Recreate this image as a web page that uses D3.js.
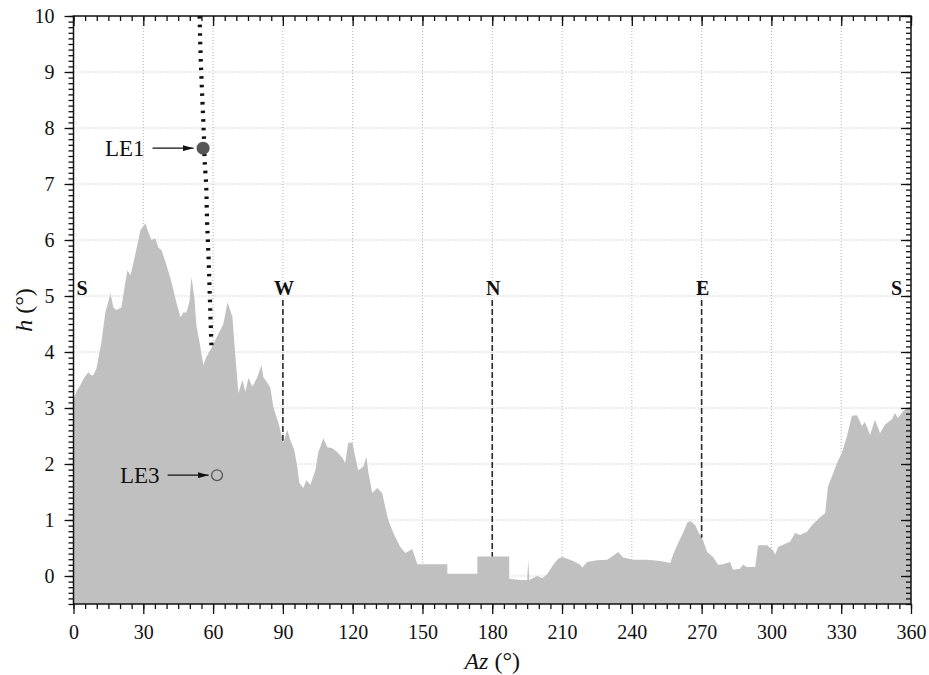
<!DOCTYPE html>
<html>
<head>
<meta charset="utf-8">
<script src="https://cdn.jsdelivr.net/npm/d3@7"></script>
<style>
  html, body { margin: 0; padding: 0; background: #fff; }
  svg { display: block; }
  svg text { font-family: "Liberation Serif", "Times New Roman", serif; }
</style>
</head>
<body>
<svg id="chart" width="929" height="675"></svg>
<script>
// Horizon profile: azimuth (deg) and apparent horizon altitude (deg)
const azimuth = [
  0.0, 1.3, 3.0, 4.7, 6.4, 7.7, 8.6, 9.9, 11.2, 12.0, 13.7, 15.0, 15.9, 17.2, 18.5, 20.6,
  22.3, 23.2, 24.5, 25.8, 27.1, 28.8, 30.1, 30.9, 32.2, 33.5, 35.2, 36.5, 37.8, 40.0,
  42.1, 44.2, 46.0, 47.3, 48.5, 49.8, 50.7, 52.0, 52.8, 54.6, 55.8, 57.1, 59.3, 61.4,
  63.1, 64.4, 65.3, 66.2, 68.3, 69.6, 70.9, 72.6, 73.9, 75.2, 76.9, 79.0, 80.8, 81.6,
  83.3, 84.6, 85.9, 88.1, 90.2, 91.9, 93.2, 94.9, 96.2, 97.1, 98.8, 100.1, 101.8, 104.0,
  105.2, 107.4, 109.1, 111.3, 113.4, 115.6, 116.8, 118.1, 119.9, 121.1, 122.4, 124.6,
  125.9, 126.7, 128.4, 130.6, 132.7, 134.0, 135.3, 137.5, 139.6, 140.5, 142.6, 144.8,
  145.6, 146.9, 147.8, 160.7, 160.7, 173.6, 173.6, 187.3, 187.3, 192.0, 195.0, 195.5,
  195.9, 199.3, 201.5, 203.6, 206.2, 208.3, 210.1, 212.2, 214.8, 217.8, 218.7, 220.8,
  225.1, 229.4, 232.0, 234.1, 236.3, 240.6, 246.6, 252.2, 256.5, 257.7, 259.9, 262.0,
  263.8, 265.1, 267.2, 268.5, 270.6, 272.4, 274.9, 277.1, 279.2, 282.2, 283.5, 286.5,
  287.8, 289.5, 293.0, 294.3, 298.1, 300.7, 301.6, 302.9, 306.7, 308.0, 310.2, 312.3,
  315.3, 317.5, 320.9, 323.1, 324.3, 326.5, 328.2, 330.3, 332.5, 334.6, 336.8, 338.9,
  340.2, 342.4, 344.5, 346.7, 348.8, 351.8, 353.1, 354.4, 356.6, 358.7, 360.0
];
const horizon = [
  3.15, 3.30, 3.41, 3.55, 3.64, 3.58, 3.59, 3.71, 4.00, 4.18, 4.71, 4.90, 5.05, 4.79, 4.75, 4.80,
  5.25, 5.46, 5.37, 5.60, 5.85, 6.18, 6.25, 6.30, 6.14, 6.00, 6.03, 5.86, 5.82, 5.55,
  5.25, 4.89, 4.62, 4.71, 4.70, 4.89, 5.34, 4.96, 4.48, 4.07, 3.77, 3.91, 4.07, 4.25,
  4.39, 4.50, 4.69, 4.89, 4.63, 3.91, 3.27, 3.50, 3.29, 3.54, 3.38, 3.55, 3.77, 3.55,
  3.45, 3.36, 3.02, 2.73, 2.38, 2.61, 2.43, 2.25, 1.95, 1.66, 1.57, 1.71, 1.63, 1.89,
  2.20, 2.46, 2.30, 2.28, 2.21, 2.11, 2.02, 2.38, 2.38, 2.13, 1.89, 1.95,
  2.13, 1.86, 1.48, 1.57, 1.48, 1.23, 1.00, 0.77, 0.59, 0.52, 0.41, 0.46,
  0.48, 0.32, 0.21, 0.21, 0.04, 0.04, 0.35, 0.35, -0.05, -0.07, -0.07, 0.29,
  -0.07, 0.00, -0.04, 0.03, 0.20, 0.31, 0.34, 0.31, 0.27, 0.20, 0.15, 0.25,
  0.28, 0.29, 0.36, 0.43, 0.33, 0.29, 0.29, 0.27, 0.23, 0.38, 0.59, 0.77,
  0.95, 0.98, 0.91, 0.79, 0.64, 0.43, 0.34, 0.20, 0.21, 0.25, 0.11, 0.13,
  0.20, 0.16, 0.16, 0.55, 0.55, 0.46, 0.38, 0.52, 0.59, 0.61, 0.77, 0.73,
  0.79, 0.91, 1.05, 1.12, 1.60, 1.83, 2.02, 2.20, 2.50, 2.86, 2.87, 2.68,
  2.75, 2.52, 2.79, 2.55, 2.70, 2.80, 2.91, 2.82, 2.94, 3.00, 3.05
];

// Path of the body across the sky until it meets the horizon
const trackAz = [54.2, 54.8, 55.4, 56.0, 56.4, 57.0, 57.4, 58.1, 58.6, 59.3];
const trackH  = [10.0, 9.1, 8.5, 7.9, 7.4, 7.0, 6.36, 5.64, 4.98, 4.1];

// Marked positions
const markerNames = ["LE1", "LE3"];
const markerAz = [55.7, 61.7];
const markerH = [7.64, 1.80];
const markerFilled = [true, false];

// Cardinal points
const cardinalLabels = ["S", "W", "N", "E", "S"];
const cardinalAz = [0, 90, 180, 270, 360];
const cardinalLabelH = 5.02;
const cardinalLineTop = 4.93;

// Axis ticks
const xMajorTicks = d3.range(0, 361, 30);
const xMinorTicks = d3.range(0, 361, 5);
const yMajorTicks = d3.range(0, 11, 1);
const yMinorTicks = d3.range(-5, 101, 1).map(v => v / 10);

const svg = d3.select("#chart");
const plotLeft = 73.5, plotRight = 911, plotTop = 16, plotBottom = 604;
const serif = "'Liberation Serif', 'Times New Roman', serif";

const x = d3.scaleLinear().domain([0, 360]).range([plotLeft, plotRight]);
const y = d3.scaleLinear().domain([-0.5, 10]).range([plotBottom, plotTop]);

const profile = azimuth.map((a, i) => ({ az: a, h: horizon[i] }));

// Gridlines
const grid = svg.append("g").attr("stroke", "#b4b4b4").attr("stroke-width", 1)
  .attr("stroke-dasharray", "1,2");
grid.selectAll("line.gx").data(xMajorTicks.filter(v => v > 0 && v < 360)).join("line")
  .attr("class", "gx")
  .attr("x1", d => x(d)).attr("x2", d => x(d)).attr("y1", plotTop).attr("y2", plotBottom);
grid.selectAll("line.gy").data(yMajorTicks.filter(v => v < 10)).join("line")
  .attr("class", "gy")
  .attr("x1", plotLeft).attr("x2", plotRight).attr("y1", d => y(d)).attr("y2", d => y(d));

// Horizon silhouette
svg.append("path")
  .datum(profile)
  .attr("fill", "#c0c0c0")
  .attr("d", d3.area().x(d => x(d.az)).y0(y(-0.5)).y1(d => y(d.h)));

// Horizon altitude at a given azimuth
function horizonAt(a) {
  const i = d3.bisectLeft(azimuth, a);
  if (i <= 0) return horizon[0];
  if (i >= azimuth.length) return horizon[horizon.length - 1];
  const a0 = azimuth[i - 1], a1 = azimuth[i];
  const t = a1 === a0 ? 1 : (a - a0) / (a1 - a0);
  return horizon[i - 1] + t * (horizon[i] - horizon[i - 1]);
}

// Cardinal dashed markers
cardinalAz.forEach((a, i) => {
  if (a > 0 && a < 360) {
    svg.append("line")
      .attr("x1", x(a)).attr("x2", x(a))
      .attr("y1", y(cardinalLineTop)).attr("y2", y(horizonAt(a)))
      .attr("stroke", "#2a2a2a").attr("stroke-width", 1.6)
      .attr("stroke-dasharray", "6,3");
  }
  const anchor = a === 0 ? "start" : a === 360 ? "end" : "middle";
  const dx = a === 0 ? 3 : a === 360 ? -9 : 1;
  svg.append("text")
    .attr("x", x(a) + dx).attr("y", y(cardinalLabelH))
    .attr("text-anchor", anchor)
    .style("font-family", serif)
    .attr("font-size", 20).attr("font-weight", "bold").attr("fill", "#111")
    .text(cardinalLabels[i]);
});

// Sky track (dotted)
const track = trackAz.map((a, i) => ({ az: a, h: trackH[i] }));
svg.append("path")
  .datum(track)
  .attr("fill", "none")
  .attr("stroke", "#111")
  .attr("stroke-width", 4.2)
  .attr("stroke-dasharray", "2.6,6")
  .attr("d", d3.line().x(d => x(d.az)).y(d => y(d.h)).curve(d3.curveMonotoneY));

// Arrow head
svg.append("defs").append("marker")
  .attr("id", "arrowHead").attr("viewBox", "0 0 11 6")
  .attr("refX", 11).attr("refY", 3)
  .attr("markerWidth", 11).attr("markerHeight", 6)
  .attr("markerUnits", "userSpaceOnUse")
  .attr("orient", "auto")
  .append("path").attr("d", "M0,0 L11,3 L0,6 Z").attr("fill", "#111");

// Labelled positions
markerNames.forEach((name, i) => {
  const cx = x(markerAz[i]), cy = y(markerH[i]);
  const r = markerFilled[i] ? 6.5 : 5.4;
  svg.append("circle")
    .attr("cx", cx).attr("cy", cy).attr("r", r)
    .attr("fill", markerFilled[i] ? "#555" : "none")
    .attr("stroke", "#555").attr("stroke-width", markerFilled[i] ? 0 : 1.3);
  const arrowEnd = cx - r - 3;
  const arrowStart = arrowEnd - 41;
  svg.append("line")
    .attr("x1", arrowStart).attr("x2", arrowEnd)
    .attr("y1", cy).attr("y2", cy)
    .attr("stroke", "#111").attr("stroke-width", 1.3)
    .attr("marker-end", "url(#arrowHead)");
  svg.append("text")
    .attr("x", arrowStart - 8).attr("y", cy)
    .attr("dy", "0.35em")
    .attr("text-anchor", "end")
    .style("font-family", serif)
    .attr("font-size", 23).attr("fill", "#111")
    .text(name);
});

// Axes
function styleAxis(g) {
  g.attr("font-family", null);
  g.selectAll("line").attr("stroke", "#111").attr("stroke-width", 1.3);
  g.select(".domain").remove();
  g.selectAll("text").style("font-family", serif)
    .attr("font-size", 20).attr("fill", "#111");
}

// bottom: outward ticks with labels
svg.append("g").attr("transform", `translate(0,${plotBottom})`)
  .call(d3.axisBottom(x).tickValues(xMinorTicks).tickSize(5).tickFormat(""))
  .call(styleAxis);
svg.append("g").attr("transform", `translate(0,${plotBottom})`)
  .call(d3.axisBottom(x).tickValues(xMajorTicks).tickSize(10).tickPadding(11).tickFormat(d3.format("d")))
  .call(styleAxis);
// top: inward ticks
svg.append("g").attr("transform", `translate(0,${plotTop})`)
  .call(d3.axisTop(x).tickValues(xMinorTicks).tickSize(-5).tickFormat(""))
  .call(styleAxis);
svg.append("g").attr("transform", `translate(0,${plotTop})`)
  .call(d3.axisTop(x).tickValues(xMajorTicks).tickSize(-10).tickFormat(""))
  .call(styleAxis);
// left: outward ticks with labels
svg.append("g").attr("transform", `translate(${plotLeft},0)`)
  .call(d3.axisLeft(y).tickValues(yMinorTicks).tickSize(5).tickFormat(""))
  .call(styleAxis);
svg.append("g").attr("transform", `translate(${plotLeft},0)`)
  .call(d3.axisLeft(y).tickValues(yMajorTicks).tickSize(9).tickPadding(10).tickFormat(d3.format("d")))
  .call(styleAxis);
// right: inward ticks
svg.append("g").attr("transform", `translate(${plotRight},0)`)
  .call(d3.axisRight(y).tickValues(yMinorTicks).tickSize(-5).tickFormat(""))
  .call(styleAxis);
svg.append("g").attr("transform", `translate(${plotRight},0)`)
  .call(d3.axisRight(y).tickValues(yMajorTicks).tickSize(-10).tickFormat(""))
  .call(styleAxis);

// Frame
svg.append("rect")
  .attr("x", plotLeft).attr("y", plotTop)
  .attr("width", plotRight - plotLeft).attr("height", plotBottom - plotTop)
  .attr("fill", "none").attr("stroke", "#111").attr("stroke-width", 1.5);

// Axis titles
const xTitle = svg.append("text")
  .attr("x", (plotLeft + plotRight) / 2).attr("y", 669)
  .attr("text-anchor", "middle").style("font-family", serif)
  .attr("font-size", 24).attr("fill", "#111");
xTitle.append("tspan").attr("font-style", "italic").text("Az");
xTitle.append("tspan").text(" (°)");

const yTitle = svg.append("text")
  .attr("transform", `translate(32,${(plotTop + plotBottom) / 2}) rotate(-90)`)
  .attr("text-anchor", "middle").style("font-family", serif)
  .attr("font-size", 24).attr("fill", "#111");
yTitle.append("tspan").attr("font-style", "italic").text("h");
yTitle.append("tspan").text(" (°)");
</script>
</body>
</html>
